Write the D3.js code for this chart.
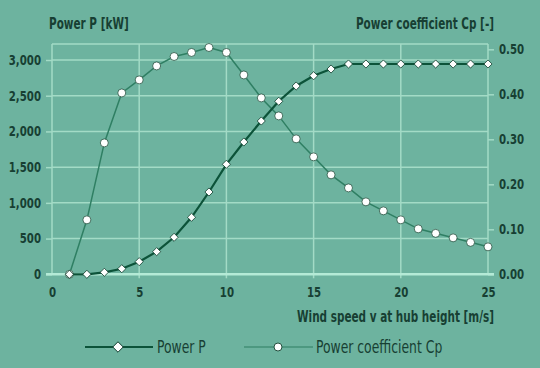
<!DOCTYPE html>
<html>
<head>
<meta charset="utf-8">
<script src="https://cdn.jsdelivr.net/npm/d3@7"></script>
<style>
  body { margin: 0; background: #6db39f; }
  svg { display: block; }
  text { font-family: "Liberation Sans Narrow", "DejaVu Sans Condensed", sans-serif; fill: #173f33; }
</style>
</head>
<body>
<svg id="svg" width="540" height="368"></svg>
<script>
// wind speed (m/s)
const speed = [1,2,3,4,5,6,7,8,9,10,11,12,13,14,15,16,17,18,19,20,21,22,23,24,25];
// Power P (kW)
const power = [0,0,28,78,177,317,518,798,1152,1540,1852,2146,2422,2636,2780,2874,2944,2944,2944,2944,2944,2944,2944,2944,2944];
// Power coefficient Cp
const cp = [0,0.121,0.292,0.403,0.432,0.463,0.484,0.493,0.504,0.493,0.443,0.392,0.352,0.301,0.261,0.221,0.192,0.161,0.141,0.121,0.101,0.091,0.081,0.071,0.061];
const xTicks = [0,5,10,15,20,25];
const pTicks = [0,500,1000,1500,2000,2500,3000];
const cpTicks = [0,0.1,0.2,0.3,0.4,0.5];

const svg = d3.select("#svg");
const grid = "#a3dbc6";

// squeeze text to look like a condensed face
const condense = (sel, f) => sel.each(function(){
    const w = this.getComputedTextLength();
    d3.select(this).attr("textLength", w*f).attr("lengthAdjust","spacingAndGlyphs");
});
// label squeezed horizontally by a transform, anchored at (px,py)
const label = (px, py, str, size, weight, anchor, f) =>
    svg.append("text").attr("transform","translate("+px+","+py+") scale("+f+",1)")
       .attr("text-anchor",anchor).style("font-size",size).style("font-weight",weight).text(str);

const x = d3.scaleLinear().domain([0,25]).range([52,488]);
const yP = d3.scaleLinear().domain([0,3000]).range([274.3,60]);
const yC = d3.scaleLinear().domain([0,0.5]).range([274.3,49.3]);
const frameTop = 44;

// frame + grid
svg.append("line").attr("x1",x(0)).attr("x2",x(25)).attr("y1",frameTop).attr("y2",frameTop)
   .attr("stroke",grid).attr("stroke-width",1.5);
xTicks.forEach(v=>{
    svg.append("line").attr("x1",x(v)).attr("x2",x(v)).attr("y1",frameTop).attr("y2",yP(0)+ (v==0||v==25?0:4))
       .attr("stroke",grid).attr("stroke-width",1.5);
});
pTicks.slice(1).forEach(v=>{
    svg.append("line").attr("x1",x(0)).attr("x2",x(25)).attr("y1",yP(v)).attr("y2",yP(v))
       .attr("stroke",grid).attr("stroke-width",1.5);
});

// axes
const left = svg.append("g").attr("transform","translate("+x(0)+",0)")
   .call(d3.axisLeft(yP).tickValues(pTicks).tickFormat(d3.format(",")).tickSize(6).tickPadding(5));
const right = svg.append("g").attr("transform","translate("+x(25)+",0)")
   .call(d3.axisRight(yC).tickValues(cpTicks).tickFormat(d3.format(".2f")).tickSize(6).tickPadding(5));
const bottom = svg.append("g").attr("transform","translate(0,"+yP(0)+")")
   .call(d3.axisBottom(x).tickValues(xTicks).tickSize(0).tickPadding(13));
[left,right,bottom].forEach(g=>{
    g.select(".domain").remove();
    g.selectAll("line").attr("stroke",grid).attr("stroke-width",1.5);
    g.selectAll("text").style("font-size","13.5px").style("font-weight","bold").attr("fill","#173f33");
    condense(g.selectAll("text"), 0.84);
});

// zero line
svg.append("line").attr("x1",x(0)-6).attr("x2",x(25)+6).attr("y1",yP(0)).attr("y2",yP(0))
   .attr("stroke","#b4ead6").attr("stroke-width",2.5);

// Cp series
const lineC = d3.line().x((d,i)=>x(speed[i])).y(d=>yC(d));
svg.append("path").attr("d",lineC(cp)).attr("fill","none").attr("stroke","#2f7f63").attr("stroke-width",1.5);
svg.selectAll(".cpDot").data(cp).enter().append("circle")
   .attr("cx",(d,i)=>x(speed[i])).attr("cy",d=>yC(d)).attr("r",4)
   .attr("fill","#fff").attr("stroke","#24503f").attr("stroke-width",0.8);

// Power series
const lineP = d3.line().x((d,i)=>x(speed[i])).y(d=>yP(d));
svg.append("path").attr("d",lineP(power)).attr("fill","none").attr("stroke","#0c5339").attr("stroke-width",2.2);
const diamond = d3.symbol().type(d3.symbolDiamond2).size(42);
svg.selectAll(".pDot").data(power).enter().append("path")
   .attr("d",diamond).attr("transform",(d,i)=>"translate("+x(speed[i])+","+yP(d)+")")
   .attr("fill","#fff").attr("stroke","#0c3a2a").attr("stroke-width",0.8);

// titles
label(49, 29, "Power P [kW]", "15px", "bold", "start", 0.775);
label(494, 29, "Power coefficient Cp [-]", "15px", "bold", "end", 0.775);
label(494, 322, "Wind speed v at hub height [m/s]", "15px", "bold", "end", 0.775);

// legend
const ly = 347;
svg.append("line").attr("x1",85).attr("x2",153).attr("y1",ly).attr("y2",ly).attr("stroke","#0c5339").attr("stroke-width",2);
svg.append("path").attr("d",d3.symbol().type(d3.symbolDiamond2).size(70)).attr("transform","translate(118,"+ly+")")
   .attr("fill","#fff").attr("stroke","#0c3a2a").attr("stroke-width",1);
label(157, ly+6, "Power P", "17px", "normal", "start", 0.81);
svg.append("line").attr("x1",244).attr("x2",313).attr("y1",ly).attr("y2",ly).attr("stroke","#2f7f63").attr("stroke-width",1.2);
svg.append("circle").attr("cx",278).attr("cy",ly).attr("r",4).attr("fill","#fff").attr("stroke","#24503f").attr("stroke-width",1);
label(316, ly+6, "Power coefficient Cp", "17px", "normal", "start", 0.81);
</script>
</body>
</html>
